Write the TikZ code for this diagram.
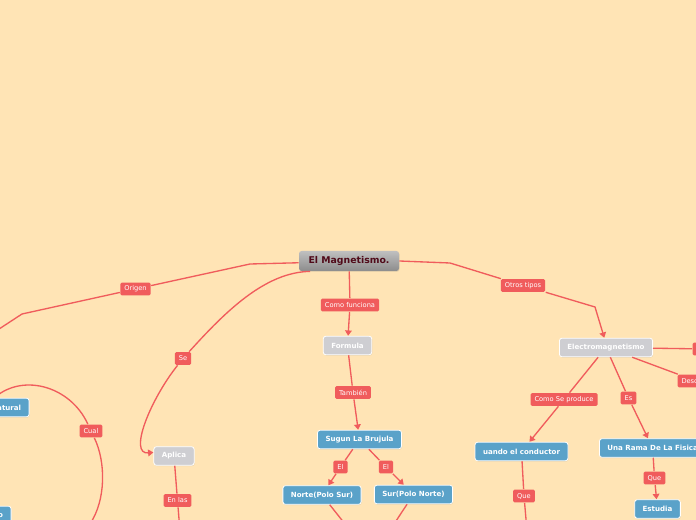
\documentclass[tikz,border=0pt]{standalone}
\usepackage{fontspec}
\newfontfamily\mapfont{DejaVu Sans}
\usetikzlibrary{arrows.meta,shadows}

\definecolor{mapbg}{RGB}{255,228,181}
\definecolor{linkred}{RGB}{240,92,92}
\definecolor{topicblue}{RGB}{90,162,201}
\definecolor{topicgray}{RGB}{206,206,210}
\definecolor{roottext}{RGB}{80,10,25}

\tikzset{every picture/.style={line width=0.75pt}}
\tikzset{
  link/.style={draw=linkred, line width=1pt},
  linkarrow/.style={-{Triangle[width=5pt,length=4pt]}},
  linklabel/.style={fill=linkred, text=white, rounded corners=1pt, inner xsep=3pt, inner ysep=1.5pt, minimum height=9.5pt, font=\mapfont\fontsize{5}{6}\selectfont},
  topic/.style={draw=white, line width=0.6pt, rounded corners=2pt, text=white, minimum height=14pt, inner xsep=6pt, font=\mapfont\bfseries\fontsize{5.3}{6}\selectfont, drop shadow={opacity=0.2, shadow xshift=0.4pt, shadow yshift=-0.6pt}},
  bluetopic/.style={topic, fill=topicblue},
  graytopic/.style={topic, fill=topicgray},
  roottopic/.style={topic, draw=none, top color=black!25, bottom color=black!45, text=roottext, minimum width=75pt, minimum height=15pt, font=\mapfont\bfseries\fontsize{7}{8}\selectfont}
}

\begin{document}
\begin{tikzpicture}[x=0.75pt,y=0.75pt,yscale=-1,xscale=1]
\useasboundingbox (0,0) rectangle (696,520);
\fill[mapbg] (0,0) rectangle (696,520);

% Topics
\node[roottopic] (root) at (349,261) {El Magnetismo.};
\node[graytopic] (formula) at (347.5,345.5) {Formula};
\node[bluetopic] (brujula) at (359.5,439.5) {Sugun La Brujula};
\node[bluetopic] (norte) at (322,495) {Norte(Polo Sur)};
\node[bluetopic] (sur) at (413.5,494.5) {Sur(Polo Norte)};
\node[graytopic] (aplica) at (174,456) {Aplica};
\node[graytopic] (electro) at (606,347.5) {Electromagnetismo};
\node[bluetopic] (conductor) at (521.5,451.5) {uando el conductor};
\node[bluetopic, anchor=west] (rama) at (599,448) {Una Rama De La Fisica};
\node[bluetopic] (estudia) at (657.5,509) {Estudia};
\node[bluetopic, anchor=east] (natural) at (29.5,407.5) {Natural};
\node[bluetopic, anchor=east] (magneto) at (11.5,515.5) {Magnetismo};

% Link labels
\node[linklabel] (origen) at (135.5,289) {Origen};
\node[linklabel] (se) at (183,358.5) {Se};
\node[linklabel] (funciona) at (350,305) {Como funciona};
\node[linklabel] (tambien) at (353,392.5) {También};
\node[linklabel] (elnorte) at (340.5,467) {El};
\node[linklabel] (elsur) at (386,467) {El};
\node[linklabel] (otros) at (523,285.5) {Otros tipos};
\node[linklabel] (produce) at (564,399.5) {Como Se produce};
\node[linklabel] (es) at (628.5,398) {Es};
\node[linklabel] (queconductor) at (524,496) {Que};
\node[linklabel] (querama) at (654.5,478) {Que};
\node[linklabel] (cual) at (91,431) {Cual};
\node[linklabel] (enlas) at (177.5,500.5) {En las};
\node[linklabel, anchor=west] (define) at (692,349) {Define};
\node[linklabel, anchor=west] (describe) at (677,381) {Describe};

% Free ends
\coordinate (origenend) at (-4,331);
\coordinate (nortebottom) at (345,524);
\coordinate (surbottom) at (394,524);
\coordinate (conductorend) at (526.5,525);
\coordinate (enlasend) at (179.5,525);
\coordinate (cualstart) at (-8,400);
\coordinate (cualend) at (90,524);

% Connectors
\draw[link] (root.182) -- (250,264) -- (origen) -- (22,314) -- (origenend);
\draw[link, linkarrow] (root.195) .. controls (265,272) and (225,312) .. (se) .. controls (150,400) and (128,455) .. (aplica.170);
\draw[link, linkarrow] (root) -- (funciona) -- (formula);
\draw[link, linkarrow] (formula) -- (tambien) -- (brujula);
\draw[link, linkarrow] (brujula) -- (elnorte) -- (norte);
\draw[link, linkarrow] (brujula) -- (elsur) -- (sur);
\draw[link] (norte) -- (nortebottom);
\draw[link] (sur) -- (surbottom);
\draw[link, linkarrow] (root.east) -- (450,263) -- (otros) -- (595,307) -- (electro.100);
\draw[link] (electro) -- (define);
\draw[link] (electro) -- (describe);
\draw[link, linkarrow] (electro) -- (produce) -- (conductor);
\draw[link, linkarrow] (electro) -- (es) -- (rama);
\draw[link] (conductor) -- (queconductor) -- (conductorend);
\draw[link, linkarrow] (rama) -- (querama) -- (estudia);
\draw[link] (aplica) -- (enlas) -- (enlasend);
\draw[link] (cualstart) .. controls (20,372) and (70,385) .. (cual) .. controls (106,462) and (106,500) .. (cualend);

\end{tikzpicture}
\end{document}
